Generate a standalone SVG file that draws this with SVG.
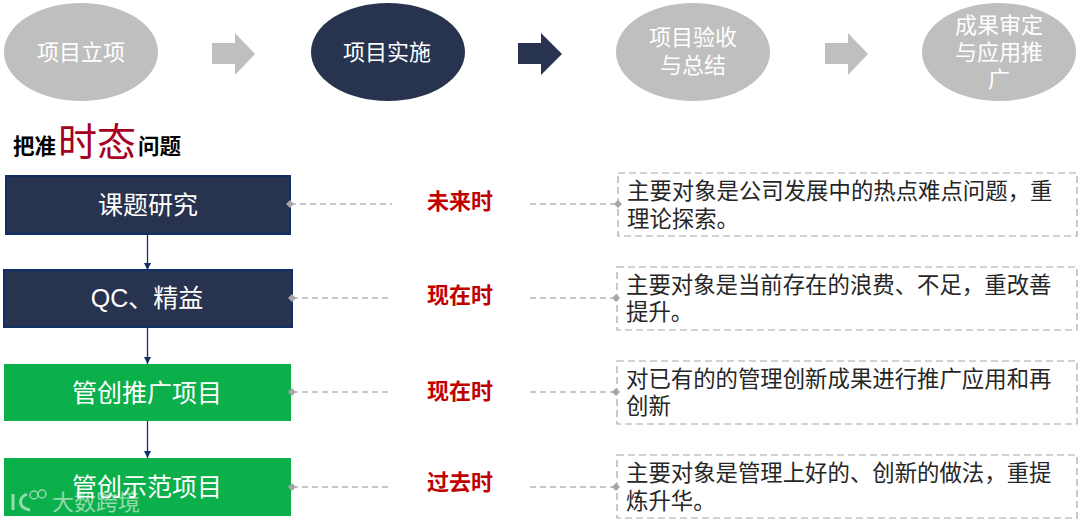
<svg xmlns="http://www.w3.org/2000/svg" width="1080" height="521" viewBox="0 0 1080 521">
<style>
text{font-family:"Liberation Sans","Noto Sans CJK SC",sans-serif}
.st{font-size:22px;fill:#fff;text-anchor:middle}
.bx{font-size:25px;fill:#fff;text-anchor:middle}
.t{font-size:22px;font-weight:700;fill:#c00000;text-anchor:middle}
.d{font-size:22.400px;fill:#262626}
.g{fill:#bfbfbf}
.n{fill:#28334f}
.nb{fill:#28334f;stroke:#0f2f66;stroke-width:2}
.gr{fill:#0bb04b}
.dash{fill:#fff;stroke:#a6a6a6;stroke-width:1.2;stroke-dasharray:7 4}
.ln{fill:none;stroke:#b5b5b5;stroke-width:1.3;stroke-dasharray:6 4}
.dot{fill:#a6a6a6}
.v{stroke:#0f2f66;stroke-width:1.3;fill:none;marker-end:url(#ah)}
</style>
<defs>
<marker id="ah" markerUnits="userSpaceOnUse" markerWidth="8" markerHeight="7" refX="7" refY="3.5" orient="auto"><path d="M0 0L7 3.5L0 7Z" fill="#0f2f66"/></marker>
</defs>
<rect width="1080" height="521" fill="#fff"/>
<g id="step1"><ellipse class="g" cx="81" cy="52" rx="77" ry="49"/><text class="st" x="81" y="60">项目立项</text></g>
<g id="arrow1"><path class="g" d="M212 43h23V33l20 21-20 21V64h-23Z"/></g>
<g id="step2"><ellipse class="n" cx="388" cy="52" rx="77" ry="49"/><text class="st" x="387" y="60">项目实施</text></g>
<g id="arrow2"><path class="n" d="M518 43h23V33l21 21-21 21V64h-23Z"/></g>
<g id="step3"><ellipse class="g" cx="693" cy="52" rx="77" ry="49"/><text class="st" x="693" y="45">项目验收</text><text class="st" x="693" y="73">与总结</text></g>
<g id="arrow3"><path class="g" d="M825 43h23V33l20 21-20 21V64h-23Z"/></g>
<g id="step4"><ellipse class="g" cx="999" cy="52" rx="77" ry="49"/><text class="st" x="999" y="33">成果审定</text><text class="st" x="999" y="60">与应用推</text><text class="st" x="999" y="87">广</text></g>
<g id="title"><text x="13" y="154" font-size="21.500" font-weight="700" fill="#000">把准</text><text x="58" y="156" font-size="39" fill="#a50021">时态</text><text x="138" y="154" font-size="21.500" font-weight="700" fill="#000">问题</text></g>
<g id="connectors">
<path class="v" d="M147.500 235V270"/><path class="v" d="M147.500 328V364"/><path class="v" d="M147.500 421V458"/>
<path class="ln" d="M290 204H392"/><path class="ln" d="M530 204H618"/>
<path class="ln" d="M292 298H392"/><path class="ln" d="M530 298H616"/>
<path class="ln" d="M292 392H392"/><path class="ln" d="M530 392H616"/>
<path class="ln" d="M292 487H392"/><path class="ln" d="M530 487H616"/>
</g>
<g id="box1"><rect class="nb" x="6" y="176" width="284" height="58"/><text class="bx" x="148" y="214">课题研究</text></g>
<g id="box2"><rect class="nb" x="4" y="270" width="288" height="57"/><text class="bx" x="147" y="307">QC、精益</text></g>
<g id="box3"><rect class="gr" x="4" y="364" width="287" height="57"/><text class="bx" x="147" y="402">管创推广项目</text></g>
<g id="box4"><rect class="gr" x="4" y="458" width="287" height="58"/><text class="bx" x="147" y="496">管创示范项目</text></g>
<g id="dots">
<path class="dot" d="M286 204l4-4 4 4-4 4Z"/><path class="dot" d="M288 298l4-4 4 4-4 4Z"/><path class="dot" d="M288 392l4-4 4 4-4 4Z"/><path class="dot" d="M288 487l4-4 4 4-4 4Z"/>
</g>
<g id="tense1"><text class="t" x="460" y="209">未来时</text></g>
<g id="tense2"><text class="t" x="460" y="303">现在时</text></g>
<g id="tense3"><text class="t" x="460" y="399">现在时</text></g>
<g id="tense4"><text class="t" x="460" y="490">过去时</text></g>
<g id="desc1"><rect class="dash" x="618" y="173" width="459" height="63"/><text class="d" x="627" y="199">主要对象是公司发展中的热点难点问题，重</text><text class="d" x="627" y="227">理论探索。</text><path class="dot" d="M614 204l4-4 4 4-4 4Z"/></g>
<g id="desc2"><rect class="dash" x="617" y="267" width="460" height="63"/><text class="d" x="626" y="293">主要对象是当前存在的浪费、不足，重改善</text><text class="d" x="626" y="320">提升。</text><path class="dot" d="M612 298l4-4 4 4-4 4Z"/></g>
<g id="desc3"><rect class="dash" x="617" y="361" width="460" height="63"/><text class="d" x="626" y="387">对已有的的管理创新成果进行推广应用和再</text><text class="d" x="626" y="414">创新</text><path class="dot" d="M612 392l4-4 4 4-4 4Z"/></g>
<g id="desc4"><rect class="dash" x="617" y="455" width="460" height="63"/><text class="d" x="626" y="481">主要对象是管理上好的、创新的做法，重提</text><text class="d" x="626" y="509">炼升华。</text><path class="dot" d="M612 487l4-4 4 4-4 4Z"/></g>
<g id="watermark" opacity="0.55"><path d="M13 494V510M27 494C18 498 18 508 30 510" fill="none" stroke="#fff" stroke-width="3"/><circle cx="34" cy="495" r="4" fill="none" stroke="#fff" stroke-width="1.500"/><circle cx="42" cy="494" r="4" fill="none" stroke="#fff" stroke-width="1.500"/><text x="52" y="510" font-size="22" fill="#fff">大数跨境</text></g>
</svg>
